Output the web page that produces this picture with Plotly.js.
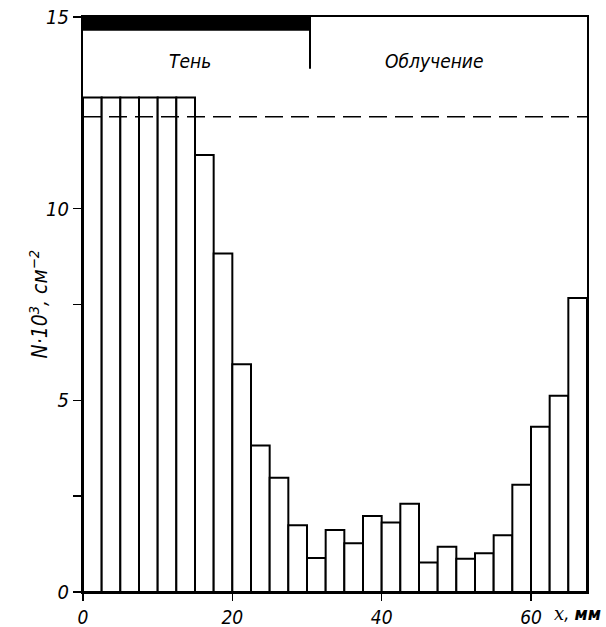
<!DOCTYPE html>
<html>
<head>
<meta charset="utf-8">
<script src="https://cdn.plot.ly/plotly-3.0.1.min.js"></script>
<style>html,body{margin:0;padding:0;background:#fff;}#chart{width:606px;height:627px;}</style>
</head>
<body>
<div id="chart"></div>
<script>
// Bin centres (mm), bin width 2.5 mm
const binWidth = 2.5;
const xCenters = [1.25, 3.75, 6.25, 8.75, 11.25, 13.75, 16.25, 18.75, 21.25, 23.75, 26.25, 28.75, 31.25, 33.75, 36.25, 38.75, 41.25, 43.75, 46.25, 48.75, 51.25, 53.75, 56.25, 58.75, 61.25, 63.75, 66.25];
// N·10^3, cm^-2
const counts = [12.9, 12.9, 12.9, 12.9, 12.9, 12.9, 11.4, 8.83, 5.94, 3.82, 2.98, 1.74, 0.89, 1.62, 1.27, 1.98, 1.81, 2.3, 0.77, 1.18, 0.87, 1.01, 1.48, 2.8, 4.31, 5.12, 7.67];
const dashedLevel = 12.4;
const shadowEnd = 30.4;
const xMax = 67.5;
const yMax = 15;
const yTickVals = [0, 5, 10, 15];
const yTickText = ['0', '5', '10', '15'];
const yMinorTickVals = [2.5, 7.5];
const xTickVals = [0, 20, 40, 60];
const xTickText = ['0', '20', '40', '60'];
const regionLabels = ['Тень', 'Облучение'];
const regionLabelX = [14.3, 47];

const FONT = '"DejaVu Sans Condensed", "Liberation Sans Narrow", "Liberation Sans", sans-serif';

const traces = [{
  type: 'bar',
  x: xCenters,
  y: counts,
  width: xCenters.map(() => binWidth),
  marker: {color: '#ffffff', line: {color: '#000000', width: 2}},
  hoverinfo: 'skip'
}];

const layout = {
  width: 606, height: 627,
  margin: {l: 83, r: 19, t: 17, b: 35},
  paper_bgcolor: '#ffffff', plot_bgcolor: '#ffffff',
  showlegend: false,
  bargap: 0,
  font: {family: FONT, color: '#000', size: 19, style: 'italic'},
  xaxis: {
    range: [0, xMax], showgrid: false, zeroline: false,
    showline: true, linecolor: '#000', linewidth: 2, mirror: true,
    ticks: 'outside', ticklen: 7, tickwidth: 1.5, tickcolor: '#000',
    tickmode: 'array', tickvals: xTickVals, ticktext: xTickText,
    tickfont: {family: FONT, size: 19, style: 'italic'}
  },
  yaxis: {
    range: [0, yMax], showgrid: false, zeroline: false,
    showline: true, linecolor: '#000', linewidth: 2, mirror: true,
    ticks: 'outside', ticklen: 8, tickwidth: 1.5, tickcolor: '#000',
    tickmode: 'array', tickvals: yTickVals, ticktext: yTickText,
    tickfont: {family: FONT, size: 20, style: 'italic'},
    minor: {tickmode: 'array', tickvals: yMinorTickVals, ticks: 'outside', ticklen: 8,
            tickwidth: 1.5, tickcolor: '#000', showgrid: false}
  },
  shapes: [
    {type: 'rect', xref: 'x', yref: 'y', x0: 0, x1: shadowEnd, y0: 14.64, y1: yMax,
     fillcolor: '#000', line: {width: 0}},
    {type: 'line', xref: 'x', yref: 'y', x0: shadowEnd, x1: shadowEnd, y0: 13.65, y1: yMax,
     line: {color: '#000', width: 2}},
    {type: 'line', xref: 'x', yref: 'y', x0: 0, x1: xMax, y0: dashedLevel, y1: dashedLevel,
     line: {color: '#000', width: 1.5, dash: '18px,8px'}}
  ],
  annotations: [
    {xref: 'x', yref: 'y', x: regionLabelX[0], y: 13.85, text: regionLabels[0], showarrow: false,
     font: {family: FONT, size: 19, style: 'italic'}},
    {xref: 'x', yref: 'y', x: regionLabelX[1], y: 13.85, text: regionLabels[1], showarrow: false,
     font: {family: FONT, size: 19, style: 'italic'}},
    {xref: 'paper', yref: 'paper', x: 0, y: 0.5, xshift: -45, textangle: -90,
     text: 'N·10<sup>3</sup>, см<sup>−2</sup>', showarrow: false, xanchor: 'center', yanchor: 'middle',
     font: {family: FONT, size: 21, style: 'italic'}},
    {xref: 'paper', yref: 'paper', x: 1, y: 0, xanchor: 'right', yanchor: 'top', yshift: -9, xshift: 16,
     text: '<span style="font-family:DejaVu Serif">x</span>, <b>мм</b>', showarrow: false,
     font: {family: FONT, size: 18, style: 'italic'}}
  ]
};

Plotly.newPlot('chart', traces, layout, {displayModeBar: false, staticPlot: true});
</script>
</body>
</html>
